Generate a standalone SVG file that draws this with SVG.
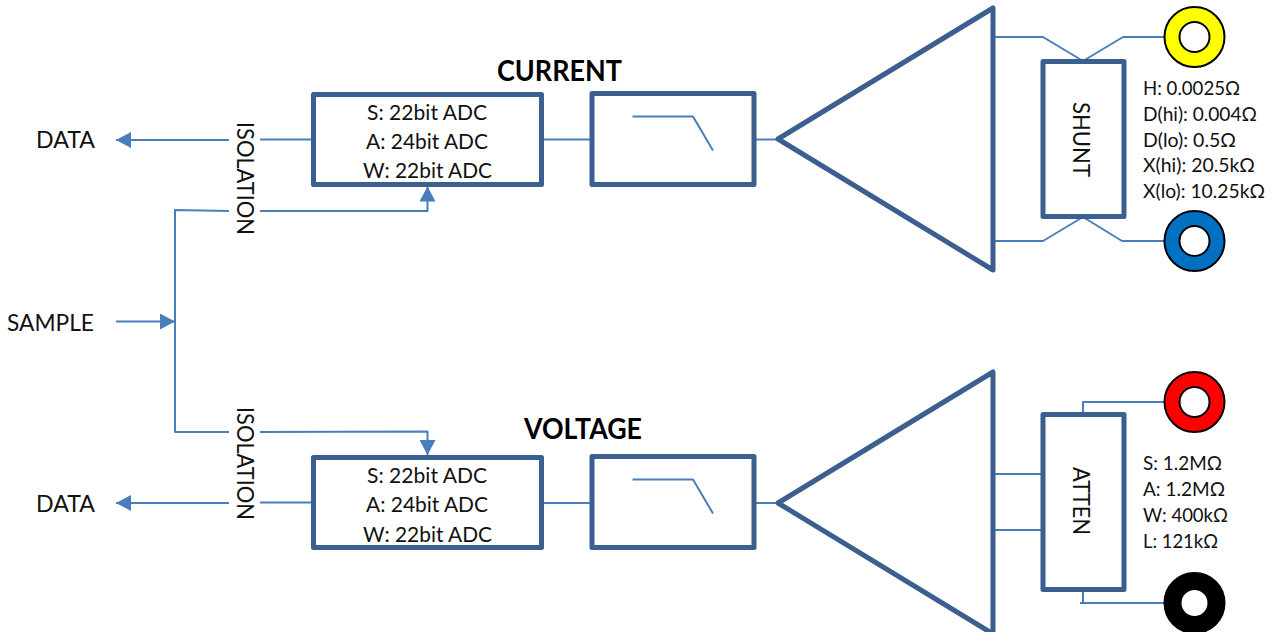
<svg xmlns="http://www.w3.org/2000/svg" width="1277" height="632" viewBox="0 0 1277 632">
<style>
text{font-family:"Lato","Carlito","Open Sans",sans-serif;font-size:23px;fill:#111;}
.b{font-weight:700;font-size:28px;fill:#000;}
.s{font-size:19px;}
.a{font-size:21.500px;}
.box{fill:#fff;stroke:#3b5f8f;stroke-width:5;stroke-linejoin:round;}
.w{fill:none;stroke:#4a7ebb;stroke-width:2;stroke-linejoin:round;}
.arr{marker-end:url(#head);}
.ring{stroke:#000;stroke-width:2;}
.hole{fill:#fff;stroke:#000;stroke-width:2;}
</style>
<defs>
<marker id="head" markerUnits="userSpaceOnUse" markerWidth="15" markerHeight="16" refX="15" refY="8" orient="auto">
<path d="M0 0L15 8L0 16z" fill="#4a7ebb"/>
</marker>
</defs>
<g id="connectors">
<path class="w arr" d="M229 140H116"/>
<path class="w" d="M260 139.500H313"/>
<path class="w arr" d="M116 321.500H175"/>
<path class="w" d="M229 211L175 210V432H229"/>
<path class="w arr" d="M260 211H427.500V186.500"/>
<path class="w arr" d="M260 432L427.500 431.500V455"/>
<path class="w arr" d="M229 503H116"/>
<path class="w" d="M260 502.500H313"/>
<path class="w" d="M544 139.500H591"/>
<path class="w" d="M754 139.500H778"/>
<path class="w" d="M544 503H591"/>
<path class="w" d="M754 503H778"/>
<path class="w" d="M993 37H1043L1083 61L1123 37H1165"/>
<path class="w" d="M993 241H1043L1083 217L1122 241H1165"/>
<path class="w" d="M993 474H1042"/>
<path class="w" d="M993 530H1042"/>
<path class="w" d="M1083 414V402H1165"/>
<path class="w" d="M1083 590V603M1080 603H1165"/>
</g>
<g id="data-top"><text x="36" y="148" textLength="59" lengthAdjust="spacingAndGlyphs">DATA</text></g>
<g id="data-bottom"><text x="36" y="512" textLength="59" lengthAdjust="spacingAndGlyphs">DATA</text></g>
<g id="sample"><text x="7" y="331" textLength="87" lengthAdjust="spacingAndGlyphs">SAMPLE</text></g>
<g id="isolation-top"><text transform="translate(236.500 122) rotate(90)" textLength="113" lengthAdjust="spacingAndGlyphs">ISOLATION</text></g>
<g id="isolation-bottom"><text transform="translate(236.500 407) rotate(90)" textLength="113" lengthAdjust="spacingAndGlyphs">ISOLATION</text></g>
<g id="title-current"><text class="b" x="497" y="81" textLength="125" lengthAdjust="spacingAndGlyphs">CURRENT</text></g>
<g id="title-voltage"><text class="b" x="524" y="439" textLength="118" lengthAdjust="spacingAndGlyphs">VOLTAGE</text></g>
<g id="adc-current">
<rect class="box" x="313.500" y="94.500" width="228" height="90"/>
<text class="a" x="367" y="120" textLength="120" lengthAdjust="spacingAndGlyphs">S: 22bit ADC</text>
<text class="a" x="366" y="149" textLength="122" lengthAdjust="spacingAndGlyphs">A: 24bit ADC</text>
<text class="a" x="363" y="178" textLength="129" lengthAdjust="spacingAndGlyphs">W: 22bit ADC</text>
</g>
<g id="adc-voltage">
<rect class="box" x="313.500" y="457.500" width="228" height="90"/>
<text class="a" x="367" y="483" textLength="120" lengthAdjust="spacingAndGlyphs">S: 22bit ADC</text>
<text class="a" x="366" y="512" textLength="122" lengthAdjust="spacingAndGlyphs">A: 24bit ADC</text>
<text class="a" x="363" y="541.500" textLength="129" lengthAdjust="spacingAndGlyphs">W: 22bit ADC</text>
</g>
<g id="filter-current">
<rect class="box" x="592" y="93.500" width="162" height="91"/>
<path class="w" d="M632.500 116.500H693L713 150.500"/>
</g>
<g id="filter-voltage">
<rect class="box" x="592" y="456.500" width="162" height="91"/>
<path class="w" d="M632.500 479.500H693L713 513.500"/>
</g>
<g id="amp-current"><path class="box" d="M778 139L993 8V270Z"/></g>
<g id="amp-voltage"><path class="box" d="M778 503L993 372V634Z"/></g>
<g id="shunt">
<rect class="box" x="1043" y="61.500" width="81" height="155"/>
<text transform="translate(1073 102) rotate(90)" textLength="75" lengthAdjust="spacingAndGlyphs">SHUNT</text>
</g>
<g id="atten">
<rect class="box" x="1043" y="414.500" width="81" height="175"/>
<text transform="translate(1073 467) rotate(90)" textLength="68" lengthAdjust="spacingAndGlyphs">ATTEN</text>
</g>
<g id="terminal-yellow"><circle class="ring" cx="1194.500" cy="37" r="30" fill="#ffff00"/><circle class="hole" cx="1194.500" cy="37" r="15"/></g>
<g id="terminal-blue"><circle class="ring" cx="1194.500" cy="241" r="30" fill="#0070c0"/><circle class="hole" cx="1194.500" cy="241" r="15"/></g>
<g id="terminal-red"><circle class="ring" cx="1194.500" cy="402" r="30" fill="#ff0000"/><circle class="hole" cx="1194.500" cy="402" r="15"/></g>
<g id="terminal-black"><circle class="ring" cx="1194.500" cy="603" r="30" fill="#000"/><circle class="hole" cx="1194.500" cy="603" r="14"/></g>
<g id="shunt-values">
<text class="s" x="1143" y="95" textLength="97" lengthAdjust="spacingAndGlyphs">H: 0.0025Ω</text>
<text class="s" x="1143" y="121" textLength="114" lengthAdjust="spacingAndGlyphs">D(hi): 0.004Ω</text>
<text class="s" x="1143" y="146.500" textLength="93" lengthAdjust="spacingAndGlyphs">D(lo): 0.5Ω</text>
<text class="s" x="1143" y="172" textLength="112" lengthAdjust="spacingAndGlyphs">X(hi): 20.5kΩ</text>
<text class="s" x="1143" y="198" textLength="122" lengthAdjust="spacingAndGlyphs">X(lo): 10.25kΩ</text>
</g>
<g id="atten-values">
<text class="s" x="1143" y="470" textLength="79" lengthAdjust="spacingAndGlyphs">S: 1.2MΩ</text>
<text class="s" x="1143" y="496" textLength="82" lengthAdjust="spacingAndGlyphs">A: 1.2MΩ</text>
<text class="s" x="1143" y="522" textLength="85" lengthAdjust="spacingAndGlyphs">W: 400kΩ</text>
<text class="s" x="1143" y="547.500" textLength="75" lengthAdjust="spacingAndGlyphs">L: 121kΩ</text>
</g>
</svg>
